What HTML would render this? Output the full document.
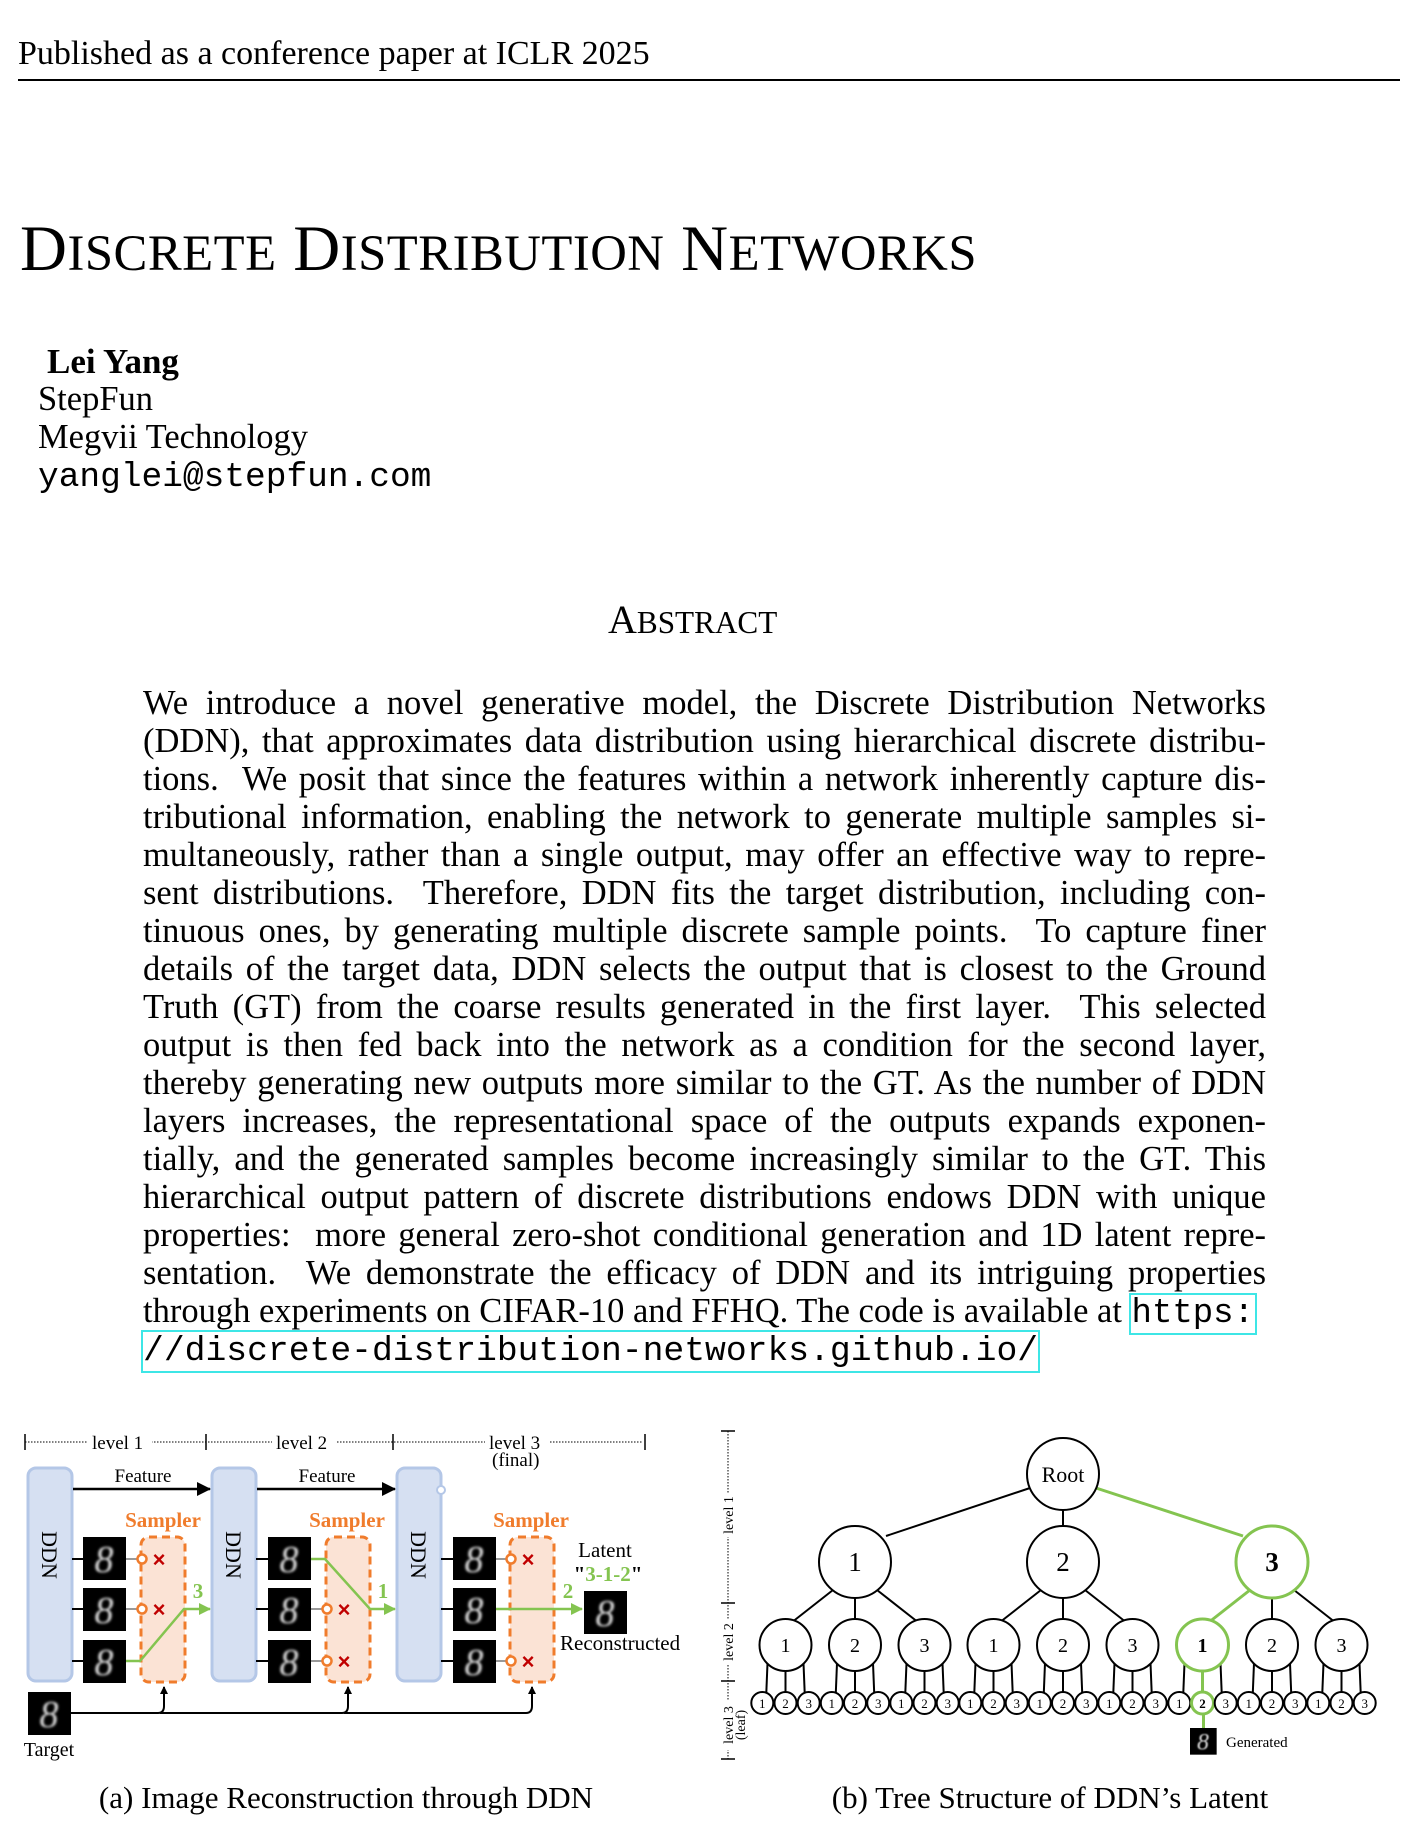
<!DOCTYPE html>
<html><head><meta charset="utf-8"><style>
html,body{margin:0;padding:0;background:#fff;}
body{width:1402px;height:1846px;position:relative;overflow:hidden;font-family:"Liberation Serif",serif;color:#000;}
.a{position:absolute;white-space:nowrap;}
.sc{font-size:0.78em;}
.para{position:absolute;left:143px;width:1123px;top:684px;font-size:34.5px;line-height:38px;}
.para div{text-align:justify;text-align-last:justify;height:38px;white-space:nowrap;}
.mono{font-family:"Liberation Mono",monospace;}
</style></head><body>
<div class="a" style="left:18px;top:35px;font-size:34px;">Published as a conference paper at ICLR 2025</div>
<div class="a" style="left:18px;top:79px;width:1382px;height:1.5px;background:#000;"></div>
<div class="a" style="left:20px;top:212px;font-size:65px;letter-spacing:0.5px;">D<span class="sc">ISCRETE</span> D<span class="sc">ISTRIBUTION</span> N<span class="sc">ETWORKS</span></div>
<div class="a" style="left:47px;top:342px;font-size:35px;font-weight:bold;">Lei Yang</div>
<div class="a" style="left:38px;top:380px;font-size:34.5px;">StepFun</div>
<div class="a" style="left:38px;top:418px;font-size:34.5px;">Megvii Technology</div>
<div class="a mono" style="left:38px;top:458px;font-size:34.5px;">yanglei@stepfun.com</div>
<div class="a" style="left:608px;top:596px;font-size:40px;">A<span class="sc">BSTRACT</span></div>
<div class="para">
<div>We introduce a novel generative model, the Discrete Distribution Networks</div>
<div>(DDN), that approximates data distribution using hierarchical discrete distribu-</div>
<div>tions. &nbsp;We posit that since the features within a network inherently capture dis-</div>
<div>tributional information, enabling the network to generate multiple samples si-</div>
<div>multaneously, rather than a single output, may offer an effective way to repre-</div>
<div>sent distributions. &nbsp;Therefore, DDN fits the target distribution, including con-</div>
<div>tinuous ones, by generating multiple discrete sample points. &nbsp;To capture finer</div>
<div>details of the target data, DDN selects the output that is closest to the Ground</div>
<div>Truth (GT) from the coarse results generated in the first layer. &nbsp;This selected</div>
<div>output is then fed back into the network as a condition for the second layer,</div>
<div>thereby generating new outputs more similar to the GT. As the number of DDN</div>
<div>layers increases, the representational space of the outputs expands exponen-</div>
<div>tially, and the generated samples become increasingly similar to the GT. This</div>
<div>hierarchical output pattern of discrete distributions endows DDN with unique</div>
<div>properties: &nbsp;more general zero-shot conditional generation and 1D latent repre-</div>
<div>sentation. &nbsp;We demonstrate the efficacy of DDN and its intriguing properties</div>
<div style="text-align-last:left;">through experiments on CIFAR-10 and FFHQ. The code is available at <span class="mono" style="font-size:34px;outline:2px solid #3ee6e6;padding:0 1px;">https:</span></div>
<div style="text-align-last:left;"><span class="mono" style="font-size:34.7px;outline:2px solid #3ee6e6;">//discrete-distribution-networks.github.io/</span></div>
</div>

<svg class="a" style="left:0;top:0;" width="1402" height="1846" viewBox="0 0 1402 1846" font-family="Liberation Serif, serif">
<defs>
<marker id="ab" markerWidth="8" markerHeight="8" refX="7" refY="4" orient="auto" markerUnits="userSpaceOnUse"><path d="M0,0 L8,4 L0,8 z" fill="#000"/></marker>
<marker id="ag" markerWidth="12" markerHeight="12" refX="11" refY="6" orient="auto" markerUnits="userSpaceOnUse"><path d="M0,0 L12,6 L0,12 z" fill="#84c450"/></marker>
<marker id="abig" markerWidth="14" markerHeight="14" refX="13" refY="7" orient="auto" markerUnits="userSpaceOnUse"><path d="M0,0 L14,7 L0,14 z" fill="#000"/></marker>
<filter id="bl"><feGaussianBlur stdDeviation="1.2"/></filter>
<g id="dig"><rect width="43" height="43" fill="#000"/><text x="21" y="35" font-size="38" fill="#ddd" text-anchor="middle" font-style="italic" filter="url(#bl)">8</text></g>
</defs>
<g stroke="#000">
<line x1="25" y1="1442" x2="643" y2="1442" stroke-dasharray="1.5,1.5" stroke-width="1"/>
<line x1="25" y1="1434" x2="25" y2="1450" stroke-width="1.5"/>
<line x1="206" y1="1434" x2="206" y2="1450" stroke-width="1.5"/>
<line x1="393" y1="1434" x2="393" y2="1450" stroke-width="1.5"/>
<line x1="645" y1="1434" x2="645" y2="1450" stroke-width="1.5"/>
</g>
<g font-size="19">
<rect x="88" y="1432" width="64" height="20" fill="#fff"/><text x="92" y="1449">level 1</text>
<rect x="272" y="1432" width="64" height="20" fill="#fff"/><text x="276" y="1449">level 2</text>
<rect x="485" y="1432" width="64" height="20" fill="#fff"/><text x="489" y="1449">level 3</text>
<text x="492" y="1466">(final)</text>
</g>
<g fill="#d6e0f2" stroke="#b4c7e7" stroke-width="3">
<rect x="28" y="1468" width="44" height="213" rx="8"/>
<rect x="212" y="1468" width="44" height="213" rx="8"/>
<rect x="397" y="1468" width="44" height="213" rx="8"/>
</g>
<circle cx="441" cy="1490" r="4" fill="#fff" stroke="#b4c7e7" stroke-width="2"/>
<g font-size="22">
<text transform="translate(42,1555) rotate(90)" text-anchor="middle">DDN</text>
<text transform="translate(226,1555) rotate(90)" text-anchor="middle">DDN</text>
<text transform="translate(411,1555) rotate(90)" text-anchor="middle">DDN</text>
</g>
<line x1="73" y1="1489" x2="210" y2="1489" stroke="#000" stroke-width="2.5" marker-end="url(#abig)"/>
<line x1="257" y1="1489" x2="395" y2="1489" stroke="#000" stroke-width="2.5" marker-end="url(#abig)"/>
<text x="143" y="1482" font-size="19" text-anchor="middle">Feature</text>
<text x="327" y="1482" font-size="19" text-anchor="middle">Feature</text>
<g font-size="21" font-weight="bold" fill="#f07c2c" text-anchor="middle">
<text x="163" y="1527">Sampler</text><text x="347" y="1527">Sampler</text><text x="531" y="1527">Sampler</text>
</g>
<g fill="#fbe3d5" stroke="#f07c2c" stroke-width="3" stroke-dasharray="8,5">
<rect x="141" y="1537" width="44" height="145" rx="8"/>
<rect x="326" y="1537" width="44" height="145" rx="8"/>
<rect x="510" y="1537" width="44" height="145" rx="8"/>
</g>
<g stroke="#000" stroke-width="2">
<line x1="72" y1="1559" x2="84" y2="1559"/><line x1="72" y1="1609" x2="84" y2="1609"/><line x1="72" y1="1661" x2="84" y2="1661"/>
<line x1="256" y1="1559" x2="269" y2="1559"/><line x1="256" y1="1609" x2="269" y2="1609"/><line x1="256" y1="1661" x2="269" y2="1661"/>
<line x1="441" y1="1559" x2="454" y2="1559"/><line x1="441" y1="1609" x2="454" y2="1609"/><line x1="441" y1="1661" x2="454" y2="1661"/>
</g>
<use href="#dig" x="83" y="1537"/><use href="#dig" x="83" y="1588"/><use href="#dig" x="83" y="1640"/>
<use href="#dig" x="268" y="1537"/><use href="#dig" x="268" y="1588"/><use href="#dig" x="268" y="1640"/>
<use href="#dig" x="453" y="1537"/><use href="#dig" x="453" y="1588"/><use href="#dig" x="453" y="1640"/>
<use href="#dig" x="28" y="1692"/>
<use href="#dig" x="584" y="1591"/>
<g stroke="#999" stroke-width="2">
<line x1="126" y1="1559" x2="138" y2="1559"/><line x1="126" y1="1609" x2="138" y2="1609"/>
<line x1="311" y1="1609" x2="323" y2="1609"/><line x1="311" y1="1661" x2="323" y2="1661"/>
<line x1="496" y1="1559" x2="507" y2="1559"/><line x1="496" y1="1661" x2="507" y2="1661"/>
</g>
<g fill="#fff" stroke="#f07c2c" stroke-width="2.5">
<circle cx="142" cy="1559" r="4.5"/><circle cx="142" cy="1609" r="4.5"/>
<circle cx="327" cy="1609" r="4.5"/><circle cx="327" cy="1661" r="4.5"/>
<circle cx="511" cy="1559" r="4.5"/><circle cx="511" cy="1661" r="4.5"/>
</g>
<g fill="#c00000" font-family="Liberation Sans, sans-serif" font-size="22" font-weight="bold" text-anchor="middle">
<text x="159" y="1567">×</text><text x="159" y="1617">×</text>
<text x="344" y="1617">×</text><text x="344" y="1669">×</text>
<text x="528" y="1567">×</text><text x="528" y="1669">×</text>
</g>
<g stroke="#84c450" stroke-width="2.5" fill="none">
<polyline points="126,1661 140,1661 184,1609 210,1609" marker-end="url(#ag)"/>
<polyline points="311,1559 325,1559 370,1609 395,1609" marker-end="url(#ag)"/>
<polyline points="496,1609 582,1609" marker-end="url(#ag)"/>
</g>
<g fill="#84c450" font-size="21" font-weight="bold" text-anchor="middle">
<text x="198" y="1598">3</text><text x="383" y="1598">1</text><text x="568" y="1598">2</text>
</g>
<g stroke="#000" stroke-width="2" fill="none">
<path d="M71,1713 H158 Q164,1713 164,1706 V1687" marker-end="url(#ab)"/>
<path d="M160,1713 H342 Q348,1713 348,1706 V1687" marker-end="url(#ab)"/>
<path d="M344,1713 H526 Q532,1713 532,1706 V1687" marker-end="url(#ab)"/>
</g>
<text x="49" y="1756" font-size="20" text-anchor="middle">Target</text>
<text x="605" y="1557" font-size="21" text-anchor="middle">Latent</text>
<text x="608" y="1581" font-size="21" font-weight="bold" text-anchor="middle"><tspan>"</tspan><tspan fill="#84c450">3-1-2</tspan><tspan>"</tspan></text>
<text x="560" y="1650" font-size="21">Reconstructed</text>
<text x="346" y="1808" font-size="31" text-anchor="middle">(a) Image Reconstruction through DDN</text>

<g stroke="#000">
<line x1="728" y1="1431" x2="728" y2="1759" stroke-dasharray="1.5,1.5" stroke-width="1"/>
<line x1="721" y1="1431" x2="735" y2="1431" stroke-width="1.5"/>
<line x1="721" y1="1603" x2="735" y2="1603" stroke-width="1.5"/>
<line x1="721" y1="1681" x2="735" y2="1681" stroke-width="1.5"/>
<line x1="721" y1="1759" x2="735" y2="1759" stroke-width="1.5"/>
</g>
<g font-size="14" text-anchor="middle">
<rect x="721" y="1493" width="14" height="44" fill="#fff"/><text transform="translate(733,1515) rotate(-90)">level 1</text>
<rect x="721" y="1620" width="14" height="44" fill="#fff"/><text transform="translate(733,1642) rotate(-90)">level 2</text>
<rect x="721" y="1700" width="26" height="50" fill="#fff"/><text transform="translate(733,1725) rotate(-90)">level 3</text><text transform="translate(745,1725) rotate(-90)">(leaf)</text>
</g>
<g stroke-width="2" fill="none" stroke="#000">
<line x1="1030" y1="1488" x2="886" y2="1536"/>
<line x1="1063" y1="1510" x2="1063" y2="1526"/>
<line x1="1096" y1="1488" x2="1243" y2="1536" stroke="#84c450" stroke-width="3"/>
</g>
<g font-size="22" text-anchor="middle">
<circle cx="1063" cy="1474" r="36" fill="#fff" stroke="#000" stroke-width="2"/><text x="1063" y="1482">Root</text>
</g>
<use href="#dig" x="0" y="0" transform="translate(1190,1728) scale(0.62)"/>
<text x="1226" y="1747" font-size="15">Generated</text>
<text x="1050" y="1808" font-size="31" text-anchor="middle">(b) Tree Structure of DDN’s Latent</text>
</svg>
<script>
(function(){
var s=document.querySelector('svg'),ns='http://www.w3.org/2000/svg',G='#84c450';
function el(t,a,txt){var e=document.createElementNS(ns,t);for(var k in a)e.setAttribute(k,a[k]);if(txt!=null)e.textContent=txt;s.appendChild(e);return e;}
var L1=[855,1063,1272],y1=1562,y2=1645,y3=1703;
for(var i=0;i<3;i++){
  var px=L1[i],green=(i==2);
  for(var j=0;j<3;j++){
    var cx=px+(j-1)*69.5,cg=green&&j==0;
    var sx=px+(j-1)*22,sy=y1+28, ey=y2-26;
    if(j==1){sy=y1+36;}
    el('line',{x1:sx,y1:sy,x2:cx+(j-1)*(-8),y2:ey+(j==1?0:2),stroke:cg?G:'#000','stroke-width':cg?3:2});
    for(var k=0;k<3;k++){
      var lx=cx+(k-1)*23.2,lg=cg&&k==1;
      el('line',{x1:cx+(k-1)*18,y1:y2+(k==1?26:18),x2:lx+(k-1)*(-4),y2:y3-10,stroke:lg?G:'#000','stroke-width':lg?3:2});
    }
    el('circle',{cx:cx,cy:y2,r:26,fill:'#fff',stroke:cg?G:'#000','stroke-width':cg?3:2});
    el('text',{x:cx,y:y2+7,'font-size':20,'text-anchor':'middle','font-weight':cg?'bold':'normal'},String(j+1));
    for(var k=0;k<3;k++){
      var lx=cx+(k-1)*23.2,lg=cg&&k==1;
      el('circle',{cx:lx,cy:y3,r:11,fill:'#fff',stroke:lg?G:'#000','stroke-width':lg?3:2});
      el('text',{x:lx,y:y3+5,'font-size':13,'text-anchor':'middle','font-weight':lg?'bold':'normal'},String(k+1));
    }
  }
  el('circle',{cx:px,cy:y1,r:36,fill:'#fff',stroke:green?G:'#000','stroke-width':green?3:2});
  el('text',{x:px,y:y1+9,'font-size':27,'text-anchor':'middle','font-weight':green?'bold':'normal'},String(i+1));
}
el('line',{x1:1203.5,y1:1714,x2:1203.5,y2:1728,stroke:G,'stroke-width':3});
})();
</script>
</body></html>
